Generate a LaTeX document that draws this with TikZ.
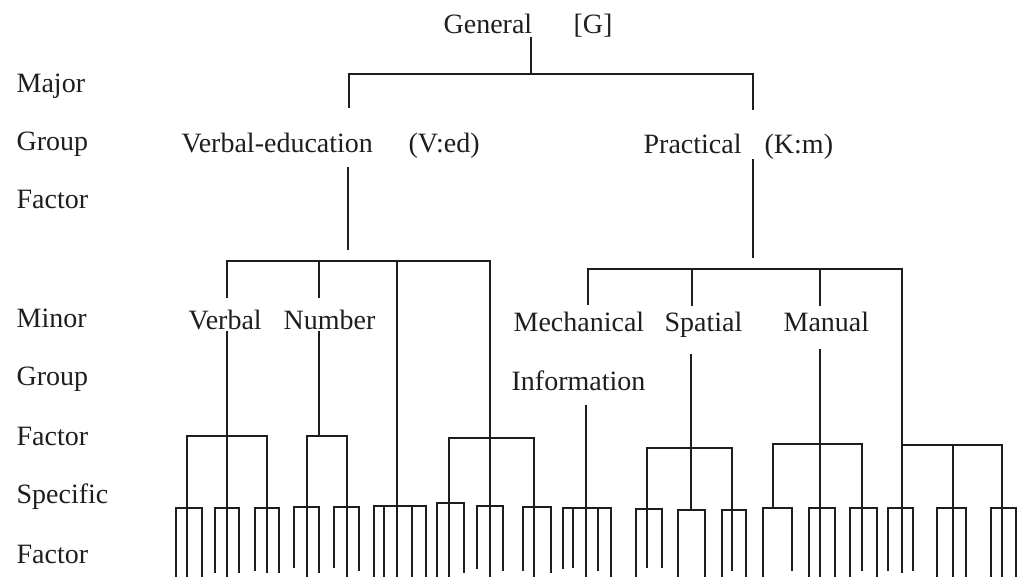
\documentclass[tikz,border=0pt]{standalone}
\usepackage{fontspec}
\setmainfont{Liberation Serif}
\definecolor{ink}{HTML}{1E1E1E}
\begin{document}
\begin{tikzpicture}[x=1pt,y=-1pt,line width=1.3pt,draw=ink,
  lbl/.style={anchor=base west,inner sep=0pt,text=ink,font=\fontsize{28}{30}\selectfont},
  treeline/.style={draw=ink,line width=1.3pt,line cap=rect}]
\useasboundingbox (0,0) rectangle (1018,576);
% side labels
\node[lbl] (s1) at (16,92) {Major};
\node[lbl] (s2) at (16,150) {Group};
\node[lbl] (s3) at (16,208) {Factor};
\node[lbl] (s4) at (16,327) {Minor};
\node[lbl] (s5) at (16,385) {Group};
\node[lbl] (s6) at (16,445) {Factor};
\node[lbl] (s7) at (16,503) {Specific};
\node[lbl] (s8) at (16,563) {Factor};
% factor names
\node[lbl] (gen) at (443,33) {General};
\node[lbl] (genG) at (573,33) {[G]};
\node[lbl] (ved) at (181,152) {Verbal-education};
\node[lbl] (vedc) at (408,152) {(V:ed)};
\node[lbl] (prac) at (643,153) {Practical};
\node[lbl] (pracc) at (764,153) {(K:m)};
\node[lbl] (verb) at (188,329) {Verbal};
\node[lbl] (num) at (283,329) {Number};
\node[lbl] (mech) at (513,331) {Mechanical};
\node[lbl] (spat) at (664,331) {Spatial};
\node[lbl] (man) at (783,331) {Manual};
\node[lbl] (info) at (511,390) {Information};
% horizontal bars
\foreach \y/\a/\b in {74/349/753, 261/227/490, 269/588/902,
  436/187/267, 436/307/347, 438/449/534, 448/647/732, 444/773/862, 445/902/1002,
  508/176/202, 508/215/239, 508/255/279, 507/294/319, 507/334/359, 506/374/426,
  503/437/464, 506/477/503, 507/523/551, 508/563/611, 509/636/662, 510/678/705,
  510/722/746, 508/763/792, 508/809/835, 508/850/877, 508/888/913, 508/937/966,
  508/991/1016}
  \draw[treeline] (\a,\y) -- (\b,\y);
% vertical stems
\foreach \x/\t/\e in {531/38/74, 349/74/107, 753/74/109, 348/168/249, 753/160/257,
  227/261/297, 319/261/297, 397/261/576, 490/261/576,
  227/332/576, 319/332/436, 187/436/576, 267/436/572, 307/436/576, 347/436/576,
  449/438/576, 534/438/576,
  588/269/304, 692/269/305, 820/269/305, 902/269/572,
  586/406/576, 691/355/510, 820/350/576,
  647/448/567, 732/448/570, 773/444/508, 862/444/570, 953/445/576, 1002/445/576}
  \draw[treeline] (\x,\t) -- (\x,\e);
% specific factor lines
\foreach \x/\t/\e in {176/508/576, 202/508/576, 215/508/572, 239/508/572,
  255/508/570, 279/508/572, 294/507/567, 319/507/572, 334/507/567, 359/507/570,
  374/506/576, 384/506/576, 412/506/576, 426/506/576, 437/503/576, 464/503/572,
  477/506/568, 503/506/570, 523/507/570, 551/507/572,
  563/508/568, 573/508/567, 598/508/570, 611/508/576, 636/509/576, 662/509/567,
  678/510/576, 705/510/576, 722/510/576, 746/510/576, 763/508/576, 792/508/570,
  809/508/576, 835/508/576, 850/508/576, 877/508/576, 888/508/570, 913/508/570,
  937/508/576, 966/508/576, 991/508/576, 1016/508/576}
  \draw[treeline] (\x,\t) -- (\x,\e);
\end{tikzpicture}
\end{document}
